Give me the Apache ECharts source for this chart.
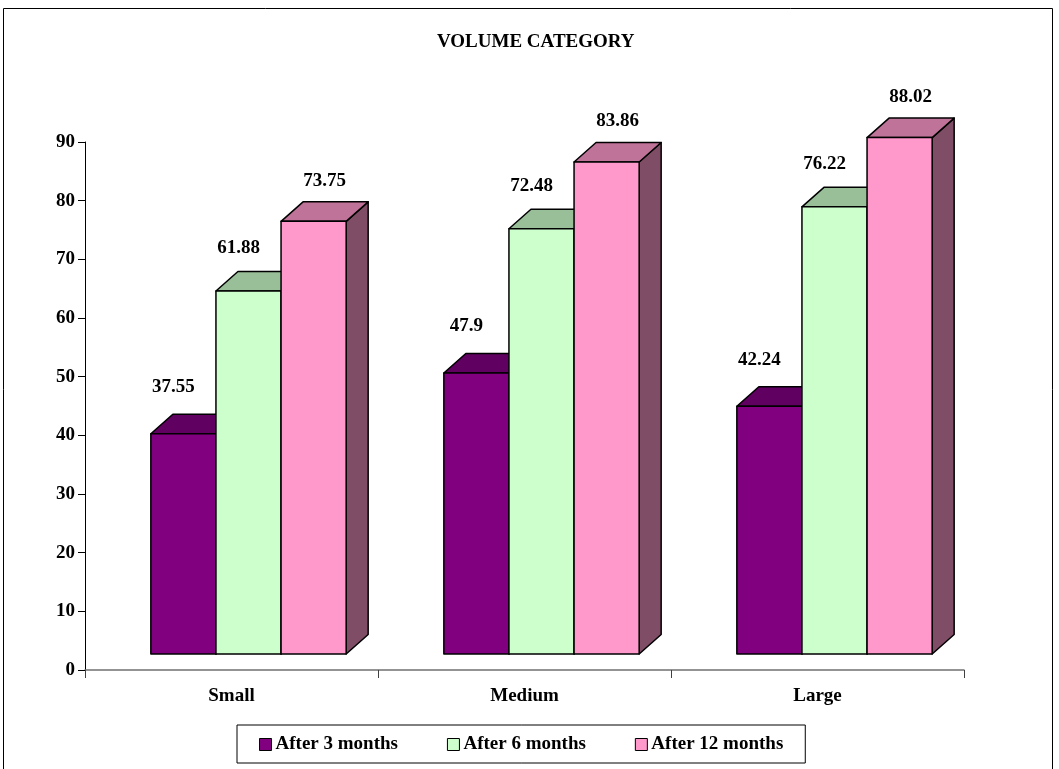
<!DOCTYPE html>
<html>
<head>
<meta charset="utf-8">
<title>Volume Category</title>
<script src="https://cdn.jsdelivr.net/npm/echarts/dist/echarts.min.js"></script>
<style>
  html, body { margin: 0; padding: 0; background: #fff; }
  #chart { width: 1059px; height: 769px; }
</style>
</head>
<body>
<div id="chart"></div>
<script>
// Chart data
const categories = ['Small', 'Medium', 'Large'];
const seriesNames = ['After 3 months', 'After 6 months', 'After 12 months'];
const after3 = [37.55, 47.9, 42.24];
const after6 = [61.88, 72.48, 76.22];
const after12 = [73.75, 83.86, 88.02];
const valueMin = 0;
const valueMax = 90;
const valueStep = 10;

// Face colours per series: front, top, side
const palette = [
  { front: '#800080', top: '#600060', side: '#400040' },
  { front: '#CCFFCC', top: '#99BF99', side: '#668066' },
  { front: '#FF99CC', top: '#C07399', side: '#804D66' }
];

const FONT = 'bold 19px "Liberation Serif", "Times New Roman", serif';
const BAR_FRACTION = 0.2222;   // width of one bar relative to the category band
const SHIFT_X = 17, SHIFT_Y = -16;   // front face offset from the floor edge
const DEPTH_X = 22, DEPTH_Y = -19.5; // bar depth projection
const LABEL_DX = [-21, -21, 0];
const LABEL_DY = [-27, -23, -21];

function makeRenderer(idx) {
  return function (params, api) {
    const cat = api.value(0);
    const val = api.value(1);
    const base = api.coord([cat, 0]);
    const top = api.coord([cat, val]);
    const band = api.size([1, 0])[0];
    const bw = band * BAR_FRACTION;
    const x0 = base[0] - 1.5 * bw + idx * bw + SHIFT_X;
    const yb = base[1] + SHIFT_Y;
    const yt = top[1] + SHIFT_Y;
    const c = palette[idx];
    const stroke = { stroke: '#000', lineWidth: 1.5, lineJoin: 'round' };
    const label = String(val);
    return {
      type: 'group',
      children: [
        {
          type: 'polygon',
          shape: { points: [[x0 + bw, yt], [x0 + bw + DEPTH_X, yt + DEPTH_Y], [x0 + bw + DEPTH_X, yb + DEPTH_Y], [x0 + bw, yb]] },
          style: Object.assign({ fill: c.side }, stroke)
        },
        {
          type: 'polygon',
          shape: { points: [[x0, yt], [x0 + DEPTH_X, yt + DEPTH_Y], [x0 + bw + DEPTH_X, yt + DEPTH_Y], [x0 + bw, yt]] },
          style: Object.assign({ fill: c.top }, stroke)
        },
        {
          type: 'rect',
          shape: { x: x0, y: yt, width: bw, height: yb - yt },
          style: Object.assign({ fill: c.front }, stroke)
        },
        {
          type: 'text',
          z2: 100,
          style: {
            text: label,
            x: x0 + bw / 2 + DEPTH_X / 2 + LABEL_DX[idx],
            y: yt + DEPTH_Y + LABEL_DY[idx],
            align: 'center',
            verticalAlign: 'middle',
            font: FONT,
            fill: '#000'
          }
        }
      ]
    };
  };
}

const valueSets = [after3, after6, after12];
const series = seriesNames.map(function (name, i) {
  return {
    name: name,
    type: 'custom',
    clip: false,
    renderItem: makeRenderer(i),
    encode: { x: 0, y: 1 },
    itemStyle: { color: palette[i].front, borderColor: '#000', borderWidth: 1 },
    data: valueSets[i].map(function (v, k) { return [k, v]; })
  };
});

const chart = echarts.init(document.getElementById('chart'), null, { renderer: 'canvas' });
chart.setOption({
  animation: false,
  backgroundColor: '#fff',
  title: {
    text: 'VOLUME CATEGORY',
    left: 437,
    top: 33,
    padding: 0,
    textStyle: { fontFamily: '"Liberation Serif", "Times New Roman", serif', fontWeight: 'bold', fontSize: 19, color: '#000' }
  },
  graphic: [
    {
      type: 'rect',
      shape: { x: 3.5, y: 8.5, width: 1049, height: 770 },
      style: { fill: 'none', stroke: '#000', lineWidth: 1 },
      silent: true
    }
  ],
  legend: {
    left: 237,
    top: 725,
    orient: 'horizontal',
    padding: [10, 22, 9, 22],
    itemGap: 49,
    itemWidth: 12,
    itemHeight: 12,
    borderColor: '#000',
    borderWidth: 1,
    selectedMode: false,
    textStyle: { fontFamily: '"Liberation Serif", "Times New Roman", serif', fontWeight: 'bold', fontSize: 19, color: '#000', padding: [0, 0, 0, -1] },
    data: seriesNames.map(function (n, i) {
      return { name: n, icon: 'rect', itemStyle: { color: palette[i].front, borderColor: '#000', borderWidth: 1 } };
    })
  },
  grid: { left: 85, right: 95, top: 142, bottom: 99, containLabel: false },
  xAxis: {
    type: 'category',
    data: categories,
    boundaryGap: true,
    axisLine: { lineStyle: { color: '#707070', width: 1.5 } },
    axisTick: { show: true, interval: 0, length: 8, lineStyle: { color: '#404040', width: 1 } },
    axisLabel: { margin: 17, fontFamily: '"Liberation Serif", "Times New Roman", serif', fontWeight: 'bold', fontSize: 19, color: '#000' },
    splitLine: { show: false }
  },
  yAxis: {
    type: 'value',
    min: valueMin,
    max: valueMax,
    interval: valueStep,
    axisLine: { show: true, lineStyle: { color: '#000', width: 1 } },
    axisTick: { show: true, length: 7, lineStyle: { color: '#000', width: 1 } },
    axisLabel: { margin: 10, fontFamily: '"Liberation Serif", "Times New Roman", serif', fontWeight: 'bold', fontSize: 19, color: '#000' },
    splitLine: { show: false }
  },
  series: series
});
</script>
</body>
</html>
